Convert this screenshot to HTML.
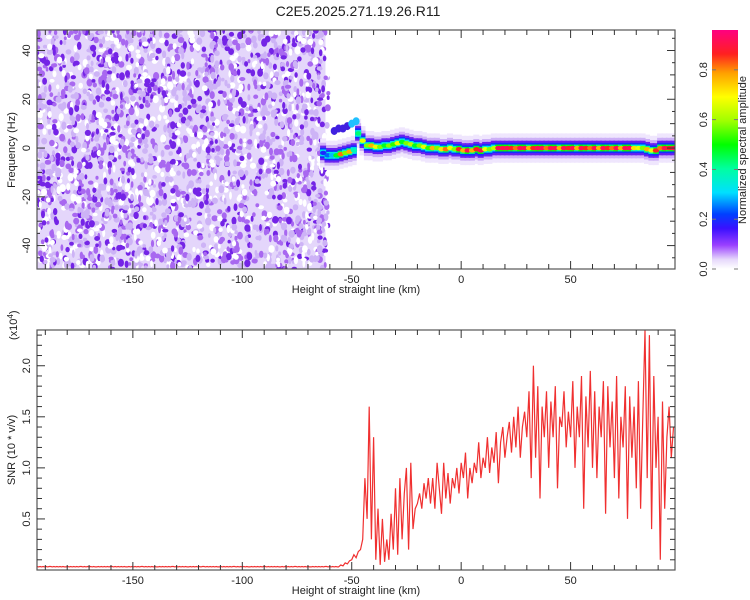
<!DOCTYPE html>
<html><head><meta charset="utf-8"><style>
body{margin:0;background:#fff;}
svg{display:block;font-family:"Liberation Sans",sans-serif;}
</style></head><body>
<svg id="c" width="750" height="600" viewBox="0 0 750 600">
<defs>
<linearGradient id="cb" x1="0" y1="1" x2="0" y2="0">
<stop offset="0" stop-color="#ffffff"/><stop offset="0.04" stop-color="#e6d8fb"/>
<stop offset="0.1" stop-color="#9a40ff"/><stop offset="0.17" stop-color="#3a10ff"/>
<stop offset="0.23" stop-color="#0040ff"/><stop offset="0.32" stop-color="#00e0ff"/>
<stop offset="0.42" stop-color="#00ffa0"/><stop offset="0.52" stop-color="#00ff00"/>
<stop offset="0.62" stop-color="#a0ff00"/><stop offset="0.72" stop-color="#ffff00"/>
<stop offset="0.82" stop-color="#ffa000"/><stop offset="0.9" stop-color="#ff2020"/>
<stop offset="1" stop-color="#ff0080"/>
</linearGradient>
<clipPath id="clipTop"><rect x="37" y="30" width="638" height="239"/></clipPath>
<clipPath id="clipBot"><rect x="37" y="330" width="638" height="240"/></clipPath>
</defs>
<text x="358" y="16" font-size="14" text-anchor="middle" fill="#222">C2E5.2025.271.19.26.R11</text>
<g id="topPanel"></g>
<g id="botPanel"></g>
<g id="cbar"></g>
</svg>
<script>
// ---- data ----
const xTicks = [-150, -100, -50, 0, 50];
const freqTicks = [-40, -20, 0, 20, 40];
const snrTicks = [0.5, 1.0, 1.5, 2.0];
const cbTicks = [0.0, 0.2, 0.4, 0.6, 0.8];
const ridgeX =   [-64,-62,-60,-58,-56,-54,-52,-50,-48,-46,-44,-42,-40,-38,-36,-34,-32,-30,-28,-26,-24,-22,-20,-18,-16,-14,-12,-10,-8,-6,-4,-2,0,2,4,6,8,10,12,14,16,18,20,22,24,26,28,30,32,34,36,38,40,42,44,46,48,50,52,54,56,58,60,62,64,66,68,70,72,74,76,78,80,82,84,86,88,90,92,94,96];
const ridgeF =   [-2,-3,-3,-3,-2.5,-2,-1.5,-1,6,3,1,1,0.5,0.5,1,1,1.5,2,2.5,2,1.5,1,1,0.5,0,0,0,-0.5,-0.5,0,-0.5,-0.5,-1,-1,-1,-0.5,-1,-0.5,-0.5,0,0,0,0,0,0,0,0,0,0,0,0,0,0,0,0,0,0,0,0,0,0,0,0,0,0,0,0,0,0,0,0,0,0,0,-0.5,-1,-1,0,0,0,0];
const ridgeAmp = [0.2,0.25,0.3,0.5,0.85,0.6,0.8,0.4,0.45,0.7,0.6,0.8,0.7,0.6,0.5,0.6,0.55,0.7,0.5,0.6,0.65,0.5,0.6,0.7,0.55,0.8,0.6,0.75,0.85,0.7,0.6,0.9,0.8,0.95,0.8,0.9,0.95,0.7,0.6,0.65,0.95,0.95,0.95,0.9,0.85,0.95,0.95,0.8,0.9,0.95,0.95,0.85,0.95,0.95,0.8,0.95,0.9,0.95,0.8,0.95,0.9,0.85,0.95,0.8,0.95,0.9,0.85,0.95,0.8,0.95,0.95,0.75,0.7,0.6,0.8,0.7,0.9,0.85,0.95,0.9,0.95];
const branchX = [-58,-56,-54,-52,-50,-48];
const branchF = [7,8,8,9,10,11];
const snrStart = -56;
const snrFloor = 0.03;
const snrValues = [
.03,.05,.04,.07,.06,.09,.1,
.15,.12,.18,.2,.3,
.9,.5,1.6,.3,1.3,
.1,.6,.05,.5,.08,
.3,.1,.55,.2,.8,
.15,.9,.3,.75,1.0,
.2,1.05,.4,.6,.65,
.75,.6,.85,.7,.9,
.65,.9,.6,1.05,.8,
.55,1.05,.7,.95,.65,
.9,.8,1.0,.75,1.05,
.9,1.15,.7,1.0,.85,
1.05,.95,1.25,.9,1.1,
1.0,1.3,.95,1.2,1.05,
1.35,.85,1.25,1.4,1.1,
1.3,1.45,1.15,1.5,1.2,
1.6,1.1,1.4,1.55,1.3,
1.75,.9,2.0,1.1,1.8,
.7,1.6,1.3,1.75,1.0,
1.65,1.3,1.8,.8,1.5,
1.4,1.75,1.2,1.55,1.3,
1.85,1.0,1.6,1.3,1.9,
.6,1.7,1.2,1.95,1.0,
1.75,.9,1.6,1.3,1.85,
.55,1.8,1.2,1.65,.9,
1.9,.7,1.5,1.2,1.8,
.5,1.7,1.1,1.6,.8,
1.85,.6,1.5,2.35,.9,
2.3,.4,1.9,1.0,1.5,
.1,1.65,.6,1.3,1.6,
1.1,1.4];

// ---- scales ----
const L=37,R=675,TT=30,TB=269,BT=330,BB=570;
const X0=-193.8,X1=97.7,F0=-49.6,F1=48.4,S1=2.35;
const sx=v=>L+(v-X0)/(X1-X0)*(R-L);
const sf=v=>TB-(v-F0)/(F1-F0)*(TB-TT);
const ss=v=>BB-v/S1*(BB-BT);
const NS="http://www.w3.org/2000/svg";
function mk(tag,attrs,parent){const e=document.createElementNS(NS,tag);for(const k in attrs)e.setAttribute(k,attrs[k]);parent.appendChild(e);return e;}
const stops=[[0,[255,255,255]],[0.04,[230,216,251]],[0.1,[154,64,255]],[0.17,[58,16,255]],[0.23,[0,64,255]],[0.32,[0,224,255]],[0.42,[0,255,160]],[0.52,[0,255,0]],[0.62,[160,255,0]],[0.72,[255,255,0]],[0.82,[255,160,0]],[0.9,[255,32,32]],[1,[255,0,128]]];
function cmap(v){v=Math.max(0,Math.min(1,v));for(let i=1;i<stops.length;i++){if(v<=stops[i][0]){const a=stops[i-1],b=stops[i],t=(v-a[0])/(b[0]-a[0]);return 'rgb('+a[1].map((c,j)=>Math.round(c+(b[1][j]-c)*t)).join(',')+')';}}return 'rgb(255,0,128)';}

const topG=document.getElementById('topPanel'),botG=document.getElementById('botPanel'),cbarG=document.getElementById('cbar');

// ---- top panel: noise texture (decorative) ----
const tex=mk('g',{'clip-path':'url(#clipTop)'},topG);


mk('rect',{x:L,y:TT,width:sx(-62)-L,height:TB-TT,fill:'#e4d6fb'},tex);
let seed=12345;const rnd=()=>{seed=(seed*1103515245+12345)%2147483648;return seed/2147483648;};
for(let i=0;i<2600;i++){
  const x=L+rnd()*(sx(-62)-L+3), y=TT+rnd()*(TB-TT);
  const r=rnd(); let col, rx=1.4+rnd()*1.8, ry=1.8+rnd()*2.4;
  if(r<0.22){col='#ffffff';} else if(r<0.55){col='#cdb3f6';} else if(r<0.8){col='#a868f0';} else {col='#7424e6';}
  mk('ellipse',{cx:x.toFixed(1),cy:y.toFixed(1),rx:rx.toFixed(1),ry:ry.toFixed(1),fill:col},tex);
}
// ---- ridge ----
const rg=mk('g',{'clip-path':'url(#clipTop)'},topG);


const layers=[[6,'#efe6fd',0],[4.2,'#cdb0f7',0],[3.0,'#6a20f0',0],[2.1,'#1030ff',0],[1.4,null,0.35]];
layers.forEach(([hw,col,amin])=>{
  for(let i=0;i<ridgeX.length;i++){
    const x=sx(ridgeX[i]),w=sx(ridgeX[i]+2.3)-x;
    const c=col||cmap(Math.max(amin,ridgeAmp[i]*0.55));
    const r=mk('rect',{x:(x-1).toFixed(1),y:(sf(ridgeF[i]+hw)).toFixed(1),width:(w+1).toFixed(1),height:(sf(ridgeF[i]-hw)-sf(ridgeF[i]+hw)).toFixed(1),fill:c},rg);
    
    
  }
});
for(let i=0;i<branchX.length;i++){
  const e=mk('ellipse',{cx:sx(branchX[i]),cy:sf(branchF[i]),rx:3.5,ry:4,fill:i>3?'#20c0ff':'#4020e0'},rg);
  
  
}
for(let i=0;i<ridgeX.length;i++){
  const e=mk('ellipse',{cx:sx(ridgeX[i]+1),cy:sf(ridgeF[i]),rx:3.2,ry:2.2,fill:cmap(ridgeAmp[i])},rg);
  
  
}

// ---- axes helper ----
function frame(g,yT,yB){mk('rect',{x:L,y:yT,width:R-L,height:yB-yT,fill:'none',stroke:'#555','stroke-width':1.2},g);}
function xAxis(g,yT,yB){
  for(let v=-190;v<=90;v+=10){const x=sx(v),len=(v%50===0)?8:5;
    mk('line',{x1:x,y1:yB,x2:x,y2:yB-len,stroke:'#333'},g);mk('line',{x1:x,y1:yT,x2:x,y2:yT+len,stroke:'#333'},g);}
  xTicks.forEach(v=>{const t=mk('text',{x:sx(v),y:yB+14,'font-size':11,'text-anchor':'middle',fill:'#222'},g);t.textContent=v;
    });
  const t=mk('text',{x:356,y:yB+24,'font-size':11,'text-anchor':'middle',fill:'#222'},g);t.textContent='Height of straight line (km)';
  
}
frame(topG,TT,TB);xAxis(topG,TT,TB);
for(let v=-45;v<=45;v+=5){const y=sf(v),len=(v%20===0)?8:(v%10===0?5:3);
  mk('line',{x1:L,y1:y,x2:L+len,y2:y,stroke:'#333'},topG);mk('line',{x1:R,y1:y,x2:R-len,y2:y,stroke:'#333'},topG);}
freqTicks.forEach(v=>{const t=mk('text',{transform:`translate(30,${sf(v)}) rotate(-90)`,'font-size':11,'text-anchor':'middle',fill:'#222'},topG);t.textContent=v;
  });
{const t=mk('text',{transform:'translate(15,150) rotate(-90)','font-size':11,'text-anchor':'middle',fill:'#222'},topG);t.textContent='Frequency (Hz)';
 }

// ---- bottom panel ----
const lg=mk('g',{'clip-path':'url(#clipBot)'},botG);
let pts=[];
for(let v=X0;v<snrStart;v+=0.7){pts.push(sx(v).toFixed(1)+','+ss(snrFloor+((Math.abs(Math.round(v*7))%2)*0.004)).toFixed(1));}
snrValues.forEach((v,i)=>pts.push(sx(snrStart+i).toFixed(1)+','+ss(v).toFixed(1)));
const pl=mk('polyline',{points:pts.join(' '),fill:'none',stroke:'#f03030','stroke-width':1.2,'stroke-linejoin':'miter'},lg);


frame(botG,BT,BB);xAxis(botG,BT,BB);
for(let k=1;k<=23;k++){const v=k/10,y=ss(v),len=(k%5===0)?8:5;
  mk('line',{x1:L,y1:y,x2:L+len,y2:y,stroke:'#333'},botG);mk('line',{x1:R,y1:y,x2:R-len,y2:y,stroke:'#333'},botG);}
snrTicks.forEach(v=>{const t=mk('text',{transform:`translate(30,${ss(v)}) rotate(-90)`,'font-size':11,'text-anchor':'middle',fill:'#222'},botG);t.textContent=v.toFixed(1);
  });
{const t=mk('text',{transform:'translate(15,450) rotate(-90)','font-size':11,'text-anchor':'middle',fill:'#222'},botG);t.textContent='SNR (10 * v/v)';
 
 const e=mk('text',{transform:'translate(17,340) rotate(-90)','font-size':11,'text-anchor':'start',fill:'#222'},botG);
 
 e.appendChild(document.createTextNode('(x10'));
 const s1=mk('tspan',{dy:-4,'font-size':8},e);s1.textContent='4';
 const s2=mk('tspan',{dy:4},e);s2.textContent=')';}

// ---- colorbar ----
const cy=v=>269-v/0.96*(269-30);
mk('rect',{x:712,y:30,width:26,height:239,fill:'url(#cb)'},cbarG);
cbTicks.forEach(v=>{const y=cy(v);
  mk('line',{x1:712,y1:y,x2:716,y2:y,stroke:'#777'},cbarG);mk('line',{x1:738,y1:y,x2:734,y2:y,stroke:'#777'},cbarG);
  const t=mk('text',{transform:`translate(707,${y}) rotate(-90)`,'font-size':11,'text-anchor':'middle',fill:'#222'},cbarG);t.textContent=v.toFixed(1);
  });
{const t=mk('text',{transform:'translate(746,150) rotate(-90)','font-size':11,'text-anchor':'middle',fill:'#222'},cbarG);t.textContent='Normalized spectral amplitude';
 }
</script>
</body></html>
